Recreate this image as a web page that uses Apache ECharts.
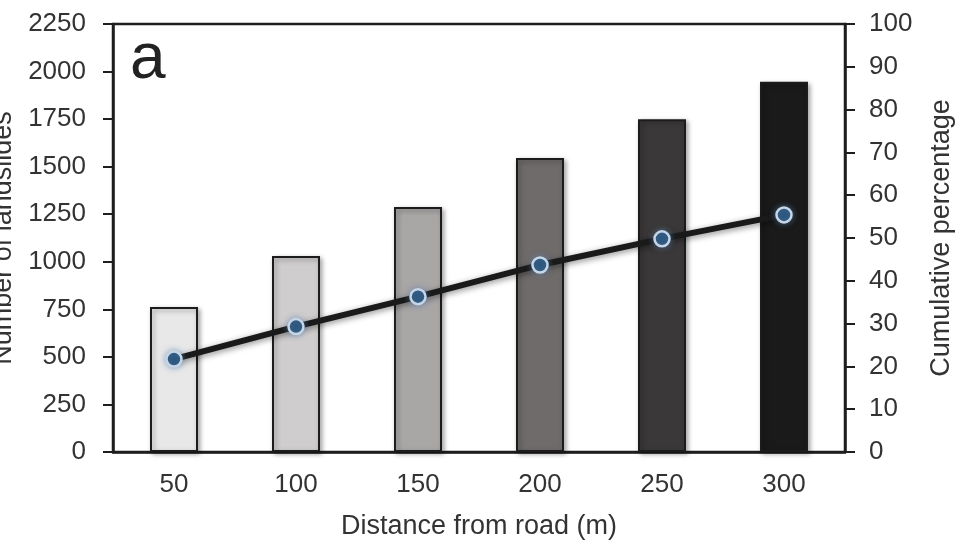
<!DOCTYPE html>
<html>
<head>
<meta charset="utf-8">
<script src="https://cdn.jsdelivr.net/npm/echarts@6/dist/echarts.min.js"></script>
<style>
html,body{margin:0;padding:0;background:#fff;}
#chart{width:960px;height:548px;}
</style>
</head>
<body>
<div id="chart"></div>
<script>
// data
const distances = ['50', '100', '150', '200', '250', '300'];
const landslides = [762, 1030, 1288, 1545, 1749, 1947];
const cumulativePct = [21.7, 29.3, 36.3, 43.7, 49.8, 55.4];
const barColors = ['#e8e8e8', '#cfcdcd', '#a9a6a6', '#6f6b6b', '#3a3838', '#1a1a1a'];

const chart = echarts.init(document.getElementById('chart'));
const txt = '#333';
const axisCol = '#1e1e1e';
const font = 'Liberation Sans, Arial, sans-serif';

chart.setOption({
  animation: false,
  textStyle: { fontFamily: font },
  grid: {
    left: 113, right: 115, top: 24, bottom: 96,
    outerBoundsMode: 'none',
    containLabel: false,
    show: true, borderColor: axisCol, borderWidth: 2.5, backgroundColor: 'transparent'
  },
  graphic: [{
    type: 'text', left: 130, top: 28,
    style: { text: 'a', fontSize: 64, fill: '#222', fontFamily: font }
  }],
  xAxis: {
    type: 'category',
    data: distances,
    name: 'Distance from road (m)',
    nameLocation: 'middle',
    nameGap: 61,
    nameTextStyle: { fontSize: 27, color: txt },
    axisLine: { lineStyle: { color: axisCol, width: 2.5 } },
    axisTick: { inside: false, length: 8, lineStyle: { color: axisCol, width: 2 } },
    axisLabel: { fontSize: 26, color: txt, margin: 20 }
  },
  yAxis: [{
    type: 'value',
    min: 0, max: 2250, interval: 250,
    name: 'Number of landslides',
    nameLocation: 'middle',
    nameRotate: 90,
    nameGap: 92,
    nameTextStyle: { fontSize: 27, color: txt },
    splitLine: { show: false },
    axisLine: { show: true, lineStyle: { color: axisCol, width: 2.5 } },
    axisTick: { show: true, length: 10, lineStyle: { color: axisCol, width: 2 } },
    axisLabel: { fontSize: 26, color: txt, margin: 27, formatter: v => String(v) }
  }, {
    type: 'value',
    position: 'right',
    min: 0, max: 100, interval: 10,
    name: 'Cumulative percentage',
    nameLocation: 'middle',
    nameRotate: 90,
    nameGap: 83,
    nameTextStyle: { fontSize: 27, color: txt },
    splitLine: { show: false },
    axisLine: { show: true, lineStyle: { color: axisCol, width: 2.5 } },
    axisTick: { show: true, length: 10, lineStyle: { color: axisCol, width: 2 } },
    axisLabel: { fontSize: 26, color: txt, margin: 24, formatter: v => String(v) }
  }],
  series: [{
    type: 'bar',
    yAxisIndex: 0,
    barWidth: 48,
    data: landslides.map((v, i) => ({
      value: v,
      itemStyle: { color: barColors[i] }
    })),
    itemStyle: {
      borderColor: '#1c1c1c', borderWidth: 2,
      shadowBlur: 5, shadowColor: 'rgba(0,0,0,0.35)', shadowOffsetX: 2, shadowOffsetY: 2
    }
  }, {
    type: 'line',
    yAxisIndex: 1,
    data: cumulativePct,
    symbol: 'circle',
    symbolSize: 15,
    lineStyle: {
      color: '#1a1a1a', width: 6,
      shadowBlur: 6, shadowColor: 'rgba(0,0,0,0.45)', shadowOffsetY: 2
    },
    itemStyle: {
      color: '#2a5479', borderColor: '#c6d6e6', borderWidth: 2.5,
      shadowBlur: 6, shadowColor: 'rgba(90,130,180,0.6)'
    },
    z: 5
  }]
});
</script>
</body>
</html>
